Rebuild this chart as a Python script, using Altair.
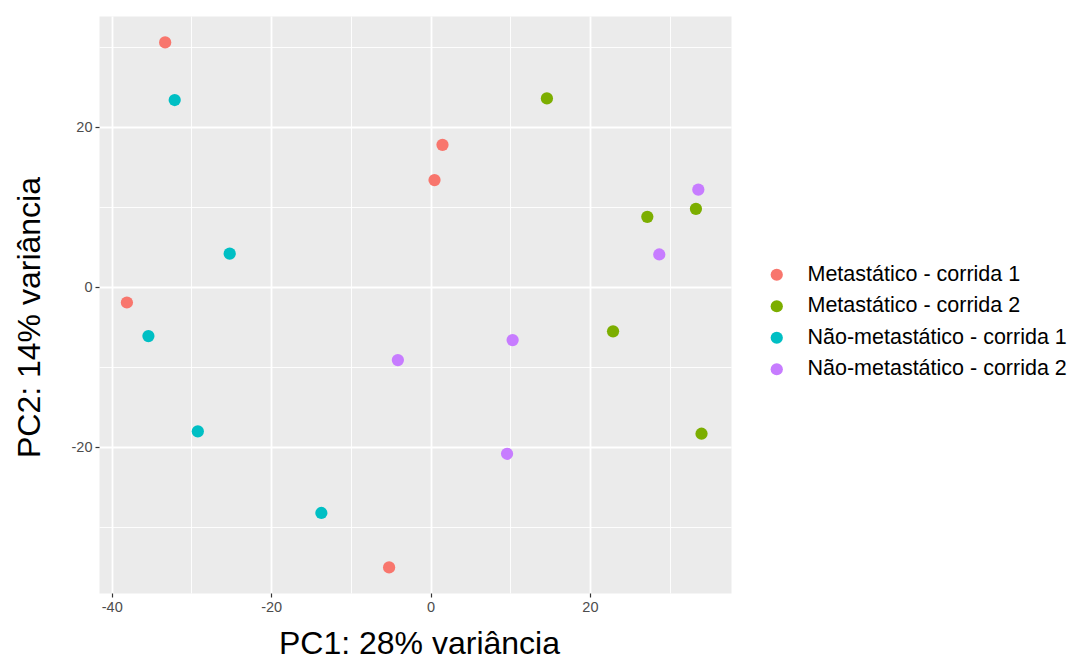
import altair as alt
import pandas as pd

groups = ["Metastático - corrida 1", "Metastático - corrida 2",
          "Não-metastático - corrida 1", "Não-metastático - corrida 2"]
colors = ["#F8766D", "#7CAE00", "#00BFC4", "#C77CFF"]

pc1_g1 = [-33.3, -38.1, 1.5, 0.5, -5.2]
pc2_g1 = [30.6, -1.9, 17.8, 13.4, -35.0]
pc1_g2 = [14.6, 27.2, 33.3, 22.9, 34.0]
pc2_g2 = [23.6, 8.8, 9.8, -5.5, -18.3]
pc1_g3 = [-32.1, -25.2, -35.4, -29.2, -13.7]
pc2_g3 = [23.4, 4.2, -6.1, -18.0, -28.2]
pc1_g4 = [33.6, 28.7, -4.1, 10.3, 9.6]
pc2_g4 = [12.2, 4.1, -9.1, -6.6, -20.8]

grid_vals = [-40, -30, -20, -10, 0, 10, 20, 30]

rows = []
for g, xs, ys in zip(groups, [pc1_g1, pc1_g2, pc1_g3, pc1_g4],
                     [pc2_g1, pc2_g2, pc2_g3, pc2_g4]):
    for a, b in zip(xs, ys):
        rows.append({"PC1": a, "PC2": b, "grupo": g})
df = pd.DataFrame(rows)

FONT = "Liberation Sans"
major = "datum.value % 20 === 0"

def axis(title, vals, **kw):
    return alt.Axis(
        title=title, values=vals, grid=True, domain=False,
        gridColor="white",
        gridWidth={"condition": {"test": major, "value": 1.8}, "value": 0.9},
        tickColor="#333333", tickSize=4, tickWidth=1.2,
        tickOpacity={"condition": {"test": major, "value": 1}, "value": 0},
        labelExpr=f"{major} ? toString(datum.value) : ''",
        labelFont=FONT, labelFontSize=14.5, labelColor="#4D4D4D", labelPadding=3,
        titleFont=FONT, titleFontSize=32, titleFontWeight="normal", titleColor="black",
        **kw)

chart = alt.Chart(df).mark_circle(size=150, opacity=1).encode(
    x=alt.X("PC1:Q", scale=alt.Scale(domain=[-41.6, 37.7], nice=False, zero=False),
            axis=axis("PC1: 28% variância", grid_vals, titlePadding=15, titleX=320)),
    y=alt.Y("PC2:Q", scale=alt.Scale(domain=[-38.2, 33.9], nice=False, zero=False),
            axis=axis("PC2: 14% variância", grid_vals[1:], titlePadding=25, titleY=301)),
    color=alt.Color("grupo:N", scale=alt.Scale(domain=groups, range=colors),
                    legend=alt.Legend(title=None, orient="none", legendX=667, legendY=248,
                                      labelFont=FONT, labelFontSize=21.5, labelColor="black",
                                      symbolSize=150, symbolType="circle", symbolStrokeWidth=0,
                                      rowPadding=8.5, labelOffset=20, padding=0,
                                      labelLimit=400)),
).properties(width=632, height=577,
             padding={"left": 5, "top": 8, "right": 0, "bottom": 0}).configure_view(
    fill="#EBEBEB", stroke="transparent")

chart.save("out.html", embed_options={"renderer": "svg", "actions": False})
